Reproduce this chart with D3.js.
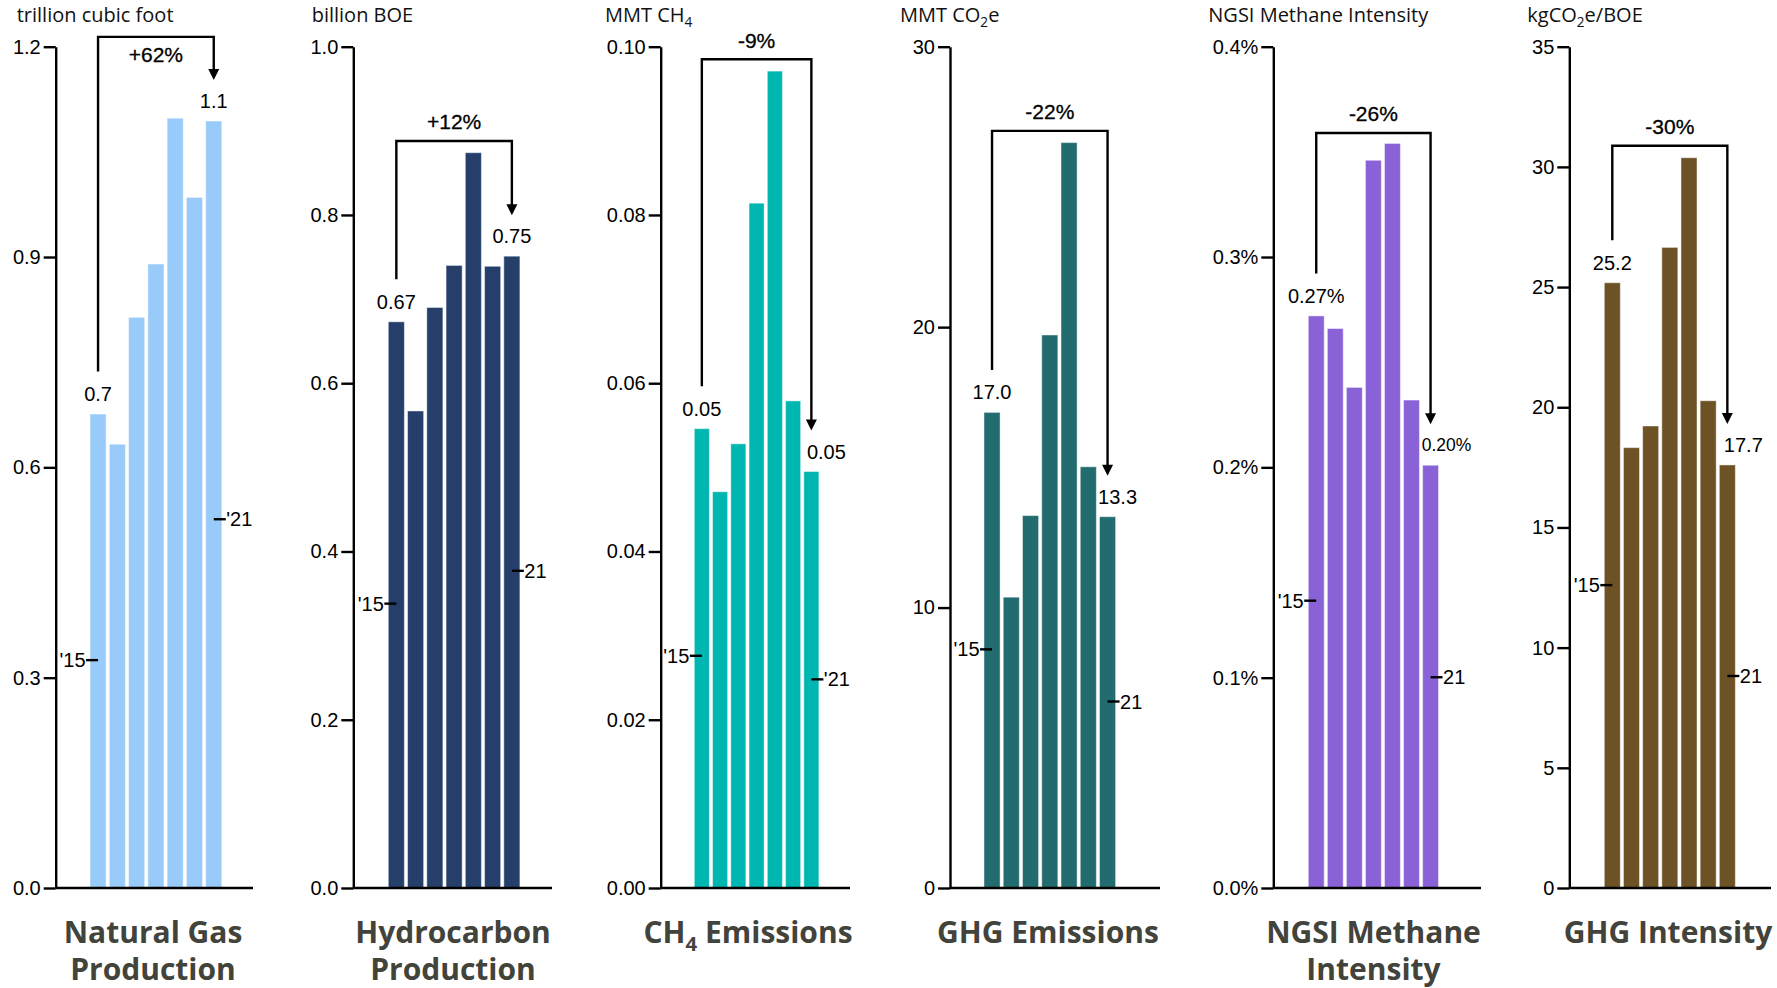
<!DOCTYPE html>
<html>
<head>
<meta charset="utf-8">
<script src="https://cdn.jsdelivr.net/npm/d3@7"></script>
<style>
  html, body { margin: 0; padding: 0; background: #fff; }
  svg { display: block; }
</style>
</head>
<body>
<svg id="chart" width="1777" height="988"></svg>
<script>
// ---------------- DATA ----------------
const years = ["2015", "2016", "2017", "2018", "2019", "2020", "2021"];

const naturalGas   = [0.676, 0.633, 0.814, 0.890, 1.098, 0.985, 1.094];
const hydrocarbon  = [0.673, 0.567, 0.690, 0.740, 0.874, 0.739, 0.751];
const ch4Emissions = [0.0546, 0.0471, 0.0528, 0.0814, 0.0971, 0.0579, 0.0495];
const ghgEmissions = [16.96, 10.37, 13.28, 19.72, 26.58, 15.02, 13.24];
const ngsiIntensity = [0.272, 0.266, 0.238, 0.346, 0.354, 0.232, 0.201];
const ghgIntensity = [25.18, 18.32, 19.22, 26.65, 30.38, 20.27, 17.60];

const ticksNaturalGas = [0, 0.3, 0.6, 0.9, 1.2];
const ticksHydrocarbon = [0, 0.2, 0.4, 0.6, 0.8, 1.0];
const ticksCh4 = [0, 0.02, 0.04, 0.06, 0.08, 0.10];
const ticksGhg = [0, 10, 20, 30];
const ticksNgsi = [0, 0.1, 0.2, 0.3, 0.4];
const ticksGhgIntensity = [0, 5, 10, 15, 20, 25, 30, 35];

const endLabels = [["0.7", "1.1"], ["0.67", "0.75"], ["0.05", "0.05"], ["17.0", "13.3"], ["0.27%", "0.20%"], ["25.2", "17.7"]];
const changeLabels = ["+62%", "+12%", "-9%", "-22%", "-26%", "-30%"];
// bracket level (in each panel's units)
const bracketLevels = [1.214, 0.888, 0.0985, 27.0, 0.359, 30.88];
// year marker positions (in each panel's units) for '15 and '21
const yearMarks = [[0.325, 0.526], [0.338, 0.377], [0.0276, 0.0248], [8.51, 6.65], [0.1366, 0.1002], [12.6, 8.82]];
const yearMarkLabels = [["'15", "'21"], ["'15", "21"], ["'15", "'21"], ["'15", "21"], ["'15", "21"], ["'15", "21"]];

const unitLabels = [
  [{t: "trillion cubic foot"}],
  [{t: "billion BOE"}],
  [{t: "MMT CH"}, {t: "4", sub: true}],
  [{t: "MMT CO"}, {t: "2", sub: true}, {t: "e"}],
  [{t: "NGSI Methane Intensity"}],
  [{t: "kgCO"}, {t: "2", sub: true}, {t: "e/BOE"}]
];
const panelTitles = [
  [[{t: "Natural Gas"}], [{t: "Production"}]],
  [[{t: "Hydrocarbon"}], [{t: "Production"}]],
  [[{t: "CH"}, {t: "4", sub: true}, {t: " Emissions"}]],
  [[{t: "GHG Emissions"}]],
  [[{t: "NGSI Methane"}], [{t: "Intensity"}]],
  [[{t: "GHG Intensity"}]]
];

// ---------------- LAYOUT / STYLE ----------------
const seriesList = [naturalGas, hydrocarbon, ch4Emissions, ghgEmissions, ngsiIntensity, ghgIntensity];
const tickList = [ticksNaturalGas, ticksHydrocarbon, ticksCh4, ticksGhg, ticksNgsi, ticksGhgIntensity];
const formats = [
  d3.format(".1f"), d3.format(".1f"), d3.format(".2f"), d3.format("d"),
  d => d3.format(".1f")(d) + "%", d3.format("d")
];
const colors = ["#99cbfa", "#253e6a", "#00b6b0", "#226b6e", "#8a62d8", "#6c5224"];
const axisX   = [55.7, 353.3, 660.7, 950, 1273.3, 1569.3];
const axisEnd = [253, 552, 850, 1160, 1481, 1771];
const barStart = [90, 388.3, 694.3, 984, 1308.3, 1604.3];
const pitches = [18.83, 18.8, 17.8, 18.8, 18.6, 18.72];
const unitX = [16.7, 311.7, 605, 900, 1208.3, 1527.3];
const titleX = [153, 453, 748, 1048, 1373.5, 1668];
const changeDy = [17.5, -19, -19, -19, -19, -19];
const lastDx = [0, 0, 15, 10, 16, 16];
const lastFont = [20, 20, 20, 20, 17.5, 20];

const yTop = 46.7, yBase = 888;
const barGap = 3.1;
const tickFont = "'Liberation Sans', Arial, sans-serif";
const unitFont = "'Open Sans', 'Noto Sans', sans-serif";

const svg = d3.select("#chart");

function addRich(textSel, segs, fs) {
  segs.forEach((s, k) => {
    const ts = textSel.append("tspan").text(s.t);
    if (s.sub) {
      ts.attr("font-size", fs * 0.68).attr("dy", fs * 0.28);
    } else if (k > 0 && segs[k - 1].sub) {
      ts.attr("dy", -fs * 0.28);
    }
  });
}

seriesList.forEach((vals, i) => {
  const maxV = tickList[i][tickList[i].length - 1];
  const y = d3.scaleLinear().domain([0, maxV]).range([yBase, yTop]);
  const pitch = pitches[i];
  const x = d3.scaleBand().domain(years)
    .range([barStart[i], barStart[i] + pitch * years.length])
    .paddingInner(barGap / pitch).paddingOuter(0).align(0);
  const cx = yr => x(yr) + x.bandwidth() / 2;

  const g = svg.append("g");

  // bars
  g.selectAll("rect.bar").data(vals).join("rect")
    .attr("class", "bar")
    .attr("x", (d, k) => x(years[k]))
    .attr("width", x.bandwidth())
    .attr("y", d => y(d))
    .attr("height", d => yBase - y(d))
    .attr("fill", colors[i])
    .attr("stroke", "rgba(255,255,255,0.45)")
    .attr("stroke-width", 1);

  // y axis
  const ax = g.append("g")
    .attr("transform", `translate(${axisX[i]},0)`)
    .call(d3.axisLeft(y).tickValues(tickList[i]).tickFormat(formats[i]).tickSize(12).tickSizeOuter(0).tickPadding(3));
  ax.select(".domain").attr("stroke", "#000").attr("stroke-width", 2.4);
  ax.selectAll(".tick line").attr("stroke", "#000").attr("stroke-width", 2.4);
  ax.selectAll(".tick text").attr("font-family", tickFont).attr("font-size", 20).attr("fill", "#000");

  // x axis baseline
  g.append("line")
    .attr("x1", axisX[i]).attr("x2", axisEnd[i])
    .attr("y1", yBase).attr("y2", yBase)
    .attr("stroke", "#000").attr("stroke-width", 2.4);

  // unit label
  const ut = g.append("text").attr("x", unitX[i]).attr("y", 21.5)
    .attr("font-family", unitFont).attr("font-size", 20).attr("fill", "#111");
  addRich(ut, unitLabels[i], 20);

  // value labels on first and last bars
  const first = years[0], last = years[years.length - 1];
  g.append("text").attr("x", cx(first)).attr("y", y(vals[0]) - 20)
    .attr("dy", "0.35em").attr("text-anchor", "middle")
    .attr("font-family", tickFont).attr("font-size", 20).attr("fill", "#000")
    .text(endLabels[i][0]);
  g.append("text").attr("x", cx(last) + lastDx[i]).attr("y", y(vals[vals.length - 1]) - 20)
    .attr("dy", "0.35em").attr("text-anchor", "middle")
    .attr("font-family", tickFont).attr("font-size", lastFont[i]).attr("fill", "#000")
    .text(endLabels[i][1]);

  // bracket + arrow
  const by = y(bracketLevels[i]);
  const startY = y(vals[0]) - 42.5;
  const tipY = y(vals[vals.length - 1]) - 41;
  const ah = 11, aw = 5.5;
  g.append("path")
    .attr("d", `M${cx(first)},${startY}V${by}H${cx(last)}V${tipY - ah + 1}`)
    .attr("fill", "none").attr("stroke", "#000").attr("stroke-width", 2.4);
  g.append("path")
    .attr("d", `M${cx(last) - aw},${tipY - ah}L${cx(last) + aw},${tipY - ah}L${cx(last)},${tipY}Z`)
    .attr("fill", "#000");
  g.append("text").attr("x", (cx(first) + cx(last)) / 2).attr("y", by + changeDy[i])
    .attr("dy", "0.35em").attr("text-anchor", "middle")
    .attr("font-family", tickFont).attr("font-size", 21).attr("fill", "#000")
    .attr("stroke", "#000").attr("stroke-width", 0.3)
    .text(changeLabels[i]);

  // year markers
  const m0 = y(yearMarks[i][0]), m1 = y(yearMarks[i][1]);
  g.append("line").attr("x1", cx(first) - 12).attr("x2", cx(first)).attr("y1", m0).attr("y2", m0)
    .attr("stroke", "#000").attr("stroke-width", 2.4);
  g.append("text").attr("x", cx(first) - 12.5).attr("y", m0).attr("dy", "0.35em")
    .attr("text-anchor", "end").attr("font-family", tickFont).attr("font-size", 20).attr("fill", "#000")
    .text(yearMarkLabels[i][0]);
  g.append("line").attr("x1", cx(last)).attr("x2", cx(last) + 12).attr("y1", m1).attr("y2", m1)
    .attr("stroke", "#000").attr("stroke-width", 2.4);
  g.append("text").attr("x", cx(last) + 12.5).attr("y", m1).attr("dy", "0.35em")
    .attr("text-anchor", "start").attr("font-family", tickFont).attr("font-size", 20).attr("fill", "#000")
    .text(yearMarkLabels[i][1]);

  // panel title
  panelTitles[i].forEach((line, li) => {
    const tt = g.append("text").attr("x", titleX[i]).attr("y", 943 + li * 37)
      .attr("text-anchor", "middle").attr("font-family", unitFont)
      .attr("font-weight", 700).attr("font-size", 30).attr("fill", "#42433b");
    addRich(tt, line, 30);
  });
});
</script>
</body>
</html>
